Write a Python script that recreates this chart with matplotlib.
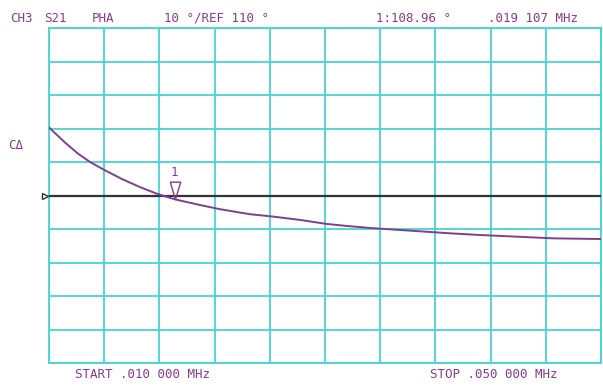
import matplotlib
matplotlib.use("Agg")
import matplotlib.pyplot as plt
from matplotlib.path import Path

# phase trace, S21, channel 3
freq_mhz = [0.0100, 0.01116, 0.01210, 0.01297, 0.01406, 0.01529, 0.01659,
            0.01783, 0.019107, 0.02094, 0.02239, 0.02457, 0.02623, 0.02819,
            0.03012, 0.03157, 0.03326, 0.03543, 0.03906, 0.04123, 0.04389,
            0.04652, 0.04993, 0.0500]
phase_deg = [130.4, 125.9, 122.6, 120.1, 117.6, 115.0, 112.6,
             110.6, 108.96, 107.25, 106.0, 104.5, 103.8, 102.8,
             101.6, 101.0, 100.4, 99.8, 98.8, 98.3, 97.8,
             97.3, 97.1, 97.1]

start_mhz, stop_mhz = 0.010, 0.050
ref_deg, scale_deg = 110, 10
marker_f, marker_val = 0.019107, 108.96

header = [("CH3", 10), ("S21", 44), ("PHA", 92), ("10 °/REF 110 °", 164),
          ("1:108.96 °", 376), (".019 107 MHz", 488)]
footer = [("START .010 000 MHz", 75), ("STOP .050 000 MHz", 430)]

W, H = 603, 387
txt = "#8a3a8c"
grid_c = "#48d2d4"
trace_c = "#7d3f8f"

fig = plt.figure(figsize=(W / 100, H / 100), dpi=100)
ax = fig.add_axes([49 / W, (H - 363.3) / H, 552 / W, 335 / H])

ax.set_xlim(start_mhz, stop_mhz)
ax.set_ylim(ref_deg - 5 * scale_deg, ref_deg + 5 * scale_deg)
step = (stop_mhz - start_mhz) / 10
ax.set_xticks([start_mhz + i * step for i in range(11)])
ax.set_yticks([ref_deg + (i - 5) * scale_deg for i in range(11)])
ax.grid(True, color=grid_c, lw=1.3)
ax.tick_params(length=0, labelbottom=False, labelleft=False)
for s in ax.spines.values():
    s.set_color(grid_c)
    s.set_linewidth(1.3)

# reference line
ax.axhline(ref_deg, color="#333333", lw=1.6, zorder=3)
ax.plot(freq_mhz, phase_deg, color=trace_c, lw=1.4, zorder=4)

# marker 1: triangle with its tip on the trace
tri = Path([(-0.3, 1.0), (0.3, 1.0), (0.0, 0.0), (-0.3, 1.0)])
ax.plot([marker_f], [marker_val], marker=tri, markersize=25, mfc="none",
        mec=txt, mew=1.0, zorder=5, clip_on=False)
ax.annotate("1", (marker_f, marker_val), xytext=(0, 19.5), textcoords="offset points",
            ha="center", va="center", color=txt, fontsize=9, family="DejaVu Sans Mono")

# reference position pointer on the left edge
ax.plot([start_mhz - 0.0003], [ref_deg], marker=">", markersize=5, mfc="white",
        mec="#333333", mew=1.0, clip_on=False, zorder=5)

font = dict(family="DejaVu Sans Mono", fontsize=9, color=txt, va="center", ha="left")
for s, x in header:
    fig.text(x / W, 1 - 18 / H, s, **font)
for s, x in footer:
    fig.text(x / W, 1 - 375 / H, s, **font)
fig.text(8 / W, 1 - 145 / H, "CΔ", **font)

fig.savefig("out.png", dpi=100, facecolor="white")
